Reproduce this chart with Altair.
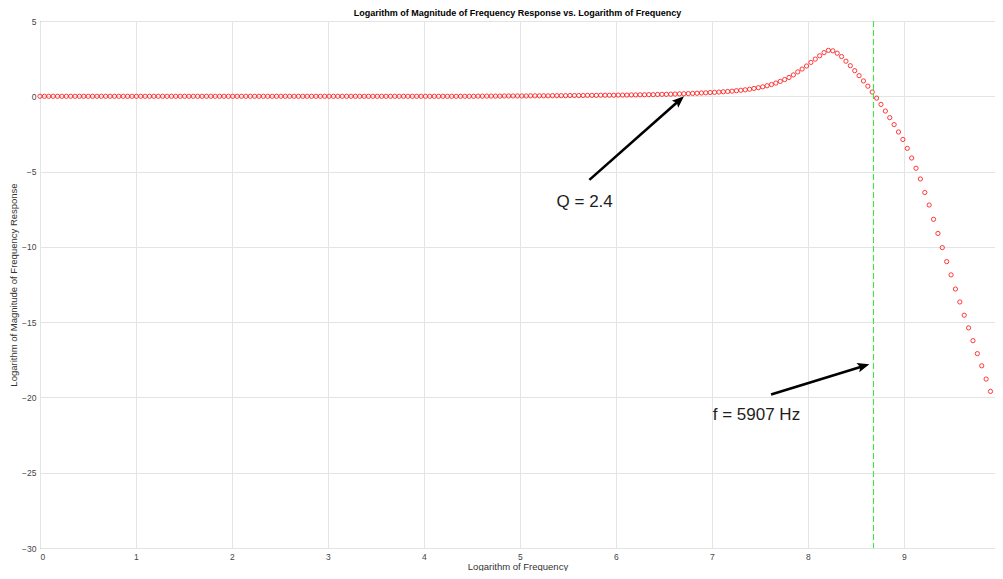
import math
import altair as alt
import numpy as np
import pandas as pd

# ---------------- text ----------------
TITLE = "Logarithm of Magnitude of Frequency Response vs. Logarithm of Frequency"
X_TITLE = "Logarithm of Frequency"
Y_TITLE = "Logarithm of Magnitude of Frequency Response"

# ---------------- data ----------------
x_first = 0.0
x_last = 9.903
n_points = 218

y_vals = [
    0.00, 0.00, 0.00, 0.00, 0.00, 0.00, 0.00, 0.00, 0.00, 0.00, 0.00, 0.00, 0.00, 0.00, 0.00, 0.00, 0.00, 0.00, 0.00, 0.00,
    0.00, 0.00, 0.00, 0.00, 0.00, 0.00, 0.00, 0.00, 0.00, 0.00, 0.00, 0.00, 0.00, 0.00, 0.00, 0.00, 0.00, 0.00, 0.00, 0.00,
    0.00, 0.00, 0.00, 0.00, 0.00, 0.00, 0.00, 0.00, 0.00, 0.00, 0.00, 0.00, 0.00, 0.00, 0.00, 0.00, 0.00, 0.00, 0.00, 0.00,
    0.00, 0.00, 0.00, 0.00, 0.00, 0.00, 0.00, 0.00, 0.00, 0.00, 0.00, 0.00, 0.00, 0.00, 0.00, 0.00, 0.00, 0.00, 0.00, 0.00,
    0.00, 0.00, 0.00, 0.00, 0.00, 0.00, 0.00, 0.00, 0.00, 0.00, 0.00, 0.00, 0.00, 0.00, 0.00, 0.00, 0.00, 0.00, 0.00, 0.00,
    0.01, 0.01, 0.01, 0.01, 0.01, 0.01, 0.02, 0.02, 0.02, 0.02,
    0.02, 0.02, 0.03, 0.03, 0.03, 0.03, 0.03, 0.04, 0.04, 0.04,
    0.04, 0.05, 0.05, 0.05, 0.05, 0.06, 0.06, 0.06, 0.07, 0.07,
    0.07, 0.07, 0.08, 0.08, 0.08, 0.09, 0.09, 0.10, 0.10, 0.11,
    0.11, 0.12, 0.13, 0.13, 0.14, 0.15, 0.16, 0.17, 0.18, 0.19,
    0.20, 0.22, 0.23, 0.25, 0.26, 0.28, 0.30, 0.32, 0.34, 0.37,
    0.40, 0.43, 0.47, 0.52, 0.57, 0.63, 0.70, 0.78, 0.88, 0.99,
    1.11, 1.25, 1.42, 1.62, 1.81, 2.01, 2.25, 2.47, 2.69, 2.90,
    3.05, 3.02, 2.86, 2.64, 2.33, 2.03, 1.70, 1.37, 1.02, 0.67,
    0.28, -0.12, -0.54, -0.98, -1.42, -1.88, -2.37, -2.87, -3.46, -4.10,
    -4.78, -5.49, -6.39, -7.22, -8.17, -9.11, -10.05, -10.98, -11.86, -12.80,
    -13.66, -14.54, -15.38, -16.23, -17.09, -17.90, -18.78, -19.60,
]
assert len(y_vals) == n_points

x_ticks = [0, 1, 2, 3, 4, 5, 6, 7, 8, 9]
y_ticks = [-30, -25, -20, -15, -10, -5, 0, 5]
x_domain = [0, 9.95]
y_domain = [-30, 5]

cutoff_x = [8.684]  # ln(5907 Hz)

ann_text = ["Q = 2.4", "f = 5907 Hz"]
ann_text_x = [5.382, 7.009]
ann_text_y = [-7.02, -21.19]
arrow_tail_x = [5.724, 7.617]
arrow_tail_y = [-5.55, -19.81]
arrow_tip_x = [6.71, 8.641]
arrow_tip_y = [0.0, -17.79]

# ---------------- layout ----------------
W, H = 955, 527
PAD = {"left": 32, "top": 13, "right": 0, "bottom": 23}
FONT = "Liberation Sans"

px_x = W / (x_domain[1] - x_domain[0])
px_y = H / (y_domain[1] - y_domain[0])
HEAD_LEN = 12.0

# ---------------- tables ----------------
curve = pd.DataFrame({"x": np.linspace(x_first, x_last, n_points), "y": y_vals})
cut = pd.DataFrame({"x": cutoff_x})

rows = []
for i in range(len(ann_text)):
    dxp = (arrow_tip_x[i] - arrow_tail_x[i]) * px_x
    dyp = (arrow_tip_y[i] - arrow_tail_y[i]) * px_y
    L = math.hypot(dxp, dyp)
    ux, uy = dxp / L, dyp / L
    ang = math.degrees(math.atan2(ux, uy)) % 360
    rows.append({
        "x0": arrow_tail_x[i], "y0": arrow_tail_y[i],
        "x1": arrow_tip_x[i] - (HEAD_LEN * 0.7) * ux / px_x,
        "y1": arrow_tip_y[i] - (HEAD_LEN * 0.7) * uy / px_y,
        "tx": arrow_tip_x[i], "ty": arrow_tip_y[i], "angle": ang,
        "label": ann_text[i], "lx": ann_text_x[i], "ly": ann_text_y[i],
    })
ann = pd.DataFrame(rows)

xs = alt.Scale(domain=x_domain, nice=False, zero=False)
ys = alt.Scale(domain=y_domain, nice=False, zero=False)
x_axis = alt.Axis(title=X_TITLE, values=x_ticks, format="d", grid=True)
y_axis = alt.Axis(title=Y_TITLE, values=y_ticks, format="d", grid=True)

points = alt.Chart(curve).mark_point(
    shape="circle", filled=False, size=18, strokeWidth=0.9, color="#ff0000", opacity=0.85
).encode(
    x=alt.X("x:Q", scale=xs, axis=x_axis),
    y=alt.Y("y:Q", scale=ys, axis=y_axis),
)

cut_line = alt.Chart(cut).mark_rule(
    color="#3ee83e", stroke="#3ee83e", strokeWidth=1.1, strokeDash=[6, 3], opacity=1
).encode(x="x:Q")

shaft = alt.Chart(ann).mark_rule(color="#000000", strokeWidth=2.6).encode(
    x="x0:Q", y="y0:Q", x2="x1:Q", y2="y1:Q"
)

head = alt.Chart(ann).mark_point(
    shape="M0,0 L-0.4,1 L0,0.8 L0.4,1 Z", filled=True, size=(2 * HEAD_LEN) ** 2,
    color="#000000", opacity=1, strokeWidth=0
).encode(x="tx:Q", y="ty:Q", angle=alt.Angle("angle:Q", scale=None))

labels = alt.Chart(ann).mark_text(
    align="left", baseline="middle", fontSize=17, font=FONT, color="#1e1e1e"
).encode(x="lx:Q", y="ly:Q", text="label:N")

chart = alt.layer(points, cut_line, shaft, head, labels).properties(
    width=W, height=H,
    title=alt.TitleParams(TITLE, fontSize=9, fontWeight="bold", font=FONT,
                          color="#000000", anchor="middle", offset=-1),
    autosize=alt.AutoSizeParams(type="none"),
    padding=PAD,
).configure_view(
    stroke="#6e6e6e", strokeWidth=1
).configure_axis(
    domain=False, tickSize=0, gridColor="#e4e4e4", gridWidth=1,
    labelFont=FONT, labelFontSize=8.5, labelColor="#444444",
    titleFont=FONT, titleFontSize=9.5, titleFontWeight="normal", titleColor="#333333",
).configure_axisX(
    labelPadding=4, titlePadding=1,
).configure_axisY(
    labelPadding=4, titlePadding=3,
)

chart.save("out.html", embed_options={"renderer": "svg", "actions": False})
